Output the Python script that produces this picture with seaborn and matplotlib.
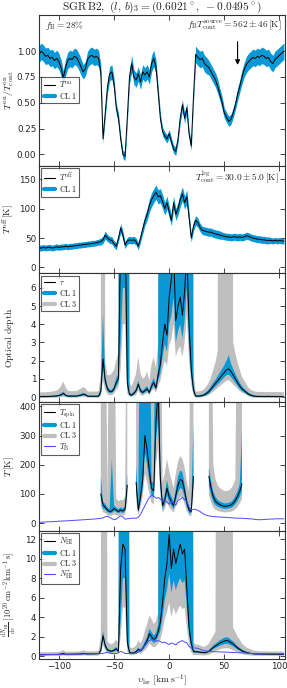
import numpy as np
import matplotlib
matplotlib.use('Agg')
import matplotlib.pyplot as plt
from matplotlib.lines import Line2D
import seaborn as sns

nan = np.nan

# ── velocity grid (km/s) ───────────────────────────────────────────────────
VEL = np.arange(-118, 105, 2)

# ── panel 1: T_on / T_cont ────────────────────────────────────────────────
TON = [
    0.97, 1.00, 0.98, 0.95, 0.96, 0.93, 0.94, 0.91, 0.93, 0.90, 0.84, 0.74, 0.84, 0.91, 0.93, 0.92,
    0.95, 0.94, 0.90, 0.85, 0.80, 0.83, 0.92, 0.95, 0.96, 0.94, 0.95, 0.93, 0.80, 0.15, 0.40, 0.65,
    0.78, 0.80, 0.68, 0.45, 0.35, 0.15, 0.00, -0.02, 0.35, 0.75, 0.88, 0.75, 0.72, 0.78, 0.70, 0.80,
    0.77, 0.80, 0.75, 0.88, 0.93, 0.85, 0.60, 0.35, 0.22, 0.18, 0.15, 0.20, 0.12, 0.05, 0.03, 0.15,
    0.35, 0.48, 0.35, 0.45, 0.20, 0.08, 0.55, 0.97, 0.94, 0.92, 0.93, 0.88, 0.86, 0.84, 0.80, 0.76,
    0.72, 0.66, 0.58, 0.50, 0.40, 0.36, 0.32, 0.34, 0.40, 0.48, 0.58, 0.66, 0.75, 0.82, 0.87, 0.90,
    0.92, 0.94, 0.93, 0.95, 0.94, 0.96, 0.95, 0.93, 0.94, 0.90, 0.88, 0.92, 0.94, 0.96, 0.98, 1.00,
]
TON_ERR = [
    0.08, 0.08, 0.08, 0.08, 0.08, 0.08, 0.08, 0.08, 0.08, 0.08, 0.08, 0.07, 0.08, 0.08, 0.08, 0.08,
    0.08, 0.08, 0.08, 0.08, 0.07, 0.07, 0.08, 0.08, 0.08, 0.08, 0.08, 0.08, 0.07, 0.04, 0.05, 0.06,
    0.07, 0.07, 0.06, 0.05, 0.05, 0.04, 0.04, 0.04, 0.05, 0.07, 0.08, 0.07, 0.07, 0.07, 0.07, 0.07,
    0.07, 0.07, 0.07, 0.08, 0.08, 0.07, 0.06, 0.05, 0.04, 0.04, 0.04, 0.04, 0.04, 0.04, 0.04, 0.04,
    0.05, 0.05, 0.05, 0.05, 0.04, 0.04, 0.05, 0.08, 0.08, 0.08, 0.08, 0.08, 0.08, 0.07, 0.07, 0.07,
    0.07, 0.07, 0.06, 0.06, 0.05, 0.05, 0.05, 0.05, 0.05, 0.05, 0.06, 0.06, 0.07, 0.07, 0.08, 0.08,
    0.08, 0.08, 0.08, 0.08, 0.08, 0.08, 0.08, 0.08, 0.08, 0.08, 0.08, 0.08, 0.08, 0.08, 0.08, 0.08,
]

# ── panel 2: T_off [K] ────────────────────────────────────────────────────
TOFF = [
    33, 33, 34, 33, 34, 34, 33, 34, 35, 34, 35, 35, 36, 35, 36, 36,
    37, 37, 38, 38, 39, 39, 40, 40, 41, 41, 42, 43, 44, 47, 55, 50,
    47, 46, 40, 36, 50, 67, 55, 38, 45, 47, 46, 47, 44, 36, 50, 65,
    80, 90, 105, 115, 122, 128, 120, 122, 112, 100, 110, 95, 80, 110, 90, 100,
    115, 125, 110, 120, 85, 50, 70, 80, 76, 68, 63, 62, 61, 60, 60, 58,
    57, 56, 55, 54, 53, 52, 52, 51, 52, 52, 51, 52, 51, 52, 54, 53,
    51, 50, 49, 48, 48, 47, 47, 46, 46, 46, 45, 46, 45, 46, 45, 45,
]
TOFF_ERR = [
    5, 5, 5, 5, 5, 5, 5, 5, 5, 5, 5, 5, 5, 5, 5, 5,
    5, 5, 5, 5, 5, 5, 5, 5, 5, 5, 5, 5, 6, 6, 7, 6,
    6, 6, 6, 6, 6, 8, 7, 6, 6, 6, 6, 6, 6, 6, 7, 8,
    9, 10, 11, 12, 12, 12, 12, 12, 12, 11, 11, 10, 9, 11, 10, 11,
    12, 12, 11, 12, 10, 7, 8, 8, 8, 7, 7, 7, 7, 7, 7, 7,
    7, 7, 7, 6, 6, 6, 6, 6, 6, 6, 6, 6, 6, 6, 6, 6,
    6, 6, 6, 6, 6, 6, 6, 6, 6, 5, 5, 5, 5, 5, 5, 5,
]

# ── panel 3: optical depth ────────────────────────────────────────────────
TAU = [
    0.02, 0.02, 0.03, 0.02, 0.03, 0.03, 0.04, 0.05, 0.06, 0.08, 0.12, 0.20, 0.10, 0.05, 0.05, 0.05,
    0.05, 0.05, 0.08, 0.10, 0.15, 0.12, 0.05, 0.04, 0.04, 0.04, 0.04, 0.05, 0.30, 2.10, 0.90, 0.45,
    0.30, 0.30, 0.45, 0.80, 1.00, 9.0, 10.0, 10.0, 0.80, 0.15, 0.10, 0.20, 0.35, 0.70, 0.35, 0.25,
    0.35, 0.45, 0.25, 0.60, 0.80, 0.50, 1.20, 1.80, 3.00, 4.00, 3.40, 5.50, 6.50, 8.00, 4.20, 5.00,
    5.50, 4.50, 5.80, 8.00, 4.00, 1.50, 0.40, 0.05, 0.05, 0.06, 0.08, 0.12, 0.20, 0.30, 0.45, 0.60,
    0.75, 0.90, 1.05, 1.20, 1.35, 1.50, 1.55, 1.40, 1.20, 1.00, 0.80, 0.60, 0.45, 0.35, 0.25, 0.15,
    0.10, 0.06, 0.04, 0.03, 0.03, 0.03, 0.02, 0.03, 0.03, 0.02, 0.03, 0.02, 0.02, 0.02, 0.02, 0.01,
]
TAU_CL1_LO = [
    0.00, 0.00, 0.00, 0.00, 0.00, 0.00, 0.01, 0.01, 0.02, 0.03, 0.06, 0.12, 0.05, 0.01, 0.01, 0.01,
    0.01, 0.01, 0.03, 0.05, 0.09, 0.07, 0.01, 0.01, 0.01, 0.01, 0.01, 0.01, 0.15, 1.60, 0.70, 0.33,
    0.22, 0.22, 0.33, 0.60, 0.80, 3.00, 6.00, 6.00, 0.50, 0.08, 0.05, 0.13, 0.25, 0.55, 0.25, 0.17,
    0.25, 0.33, 0.17, 0.45, 0.62, 0.38, 0.90, 1.30, 2.20, 2.90, 2.50, 4.00, 4.50, 5.50, 3.00, 3.60,
    4.00, 3.20, 4.20, 6.00, 2.80, 1.10, 0.25, 0.01, 0.01, 0.02, 0.03, 0.06, 0.12, 0.20, 0.32, 0.45,
    0.58, 0.70, 0.82, 0.95, 1.08, 1.20, 1.22, 1.10, 0.95, 0.78, 0.62, 0.45, 0.33, 0.25, 0.17, 0.09,
    0.05, 0.02, 0.01, 0.00, 0.00, 0.00, 0.00, 0.00, 0.00, 0.00, 0.00, 0.00, 0.00, 0.00, 0.00, 0.00,
]
TAU_CL1_HI = [
    0.06, 0.06, 0.07, 0.06, 0.07, 0.07, 0.08, 0.09, 0.10, 0.13, 0.19, 0.30, 0.16, 0.09, 0.09, 0.09,
    0.09, 0.09, 0.13, 0.16, 0.23, 0.19, 0.09, 0.08, 0.08, 0.08, 0.08, 0.09, 0.50, 4.60, 1.20, 0.60,
    0.40, 0.40, 0.58, 1.05, 1.25, 99, 99, 99, 99, 0.25, 0.18, 0.30, 0.48, 0.90, 0.48, 0.35,
    0.48, 0.60, 0.35, 0.78, 1.05, 0.68, 1.60, 99, 99, 99, 99, 99, 99, 99, 99, 99,
    99, 99, 99, 99, 99, 99, 0.70, 0.10, 0.10, 0.11, 0.14, 0.20, 0.30, 0.42, 0.60, 0.80,
    0.95, 1.15, 1.35, 1.55, 1.75, 2.00, 2.30, 1.85, 1.55, 1.28, 1.02, 0.78, 0.60, 0.47, 0.35, 0.23,
    0.17, 0.11, 0.08, 0.07, 0.07, 0.07, 0.06, 0.07, 0.07, 0.06, 0.07, 0.06, 0.06, 0.06, 0.06, 0.05,
]
TAU_CL3_LO = [
    -0.05, -0.05, -0.05, -0.05, -0.05, -0.05, -0.04, -0.04, -0.03, -0.02, 0.00, 0.02, 0.00, -0.03, -0.04, -0.04,
    -0.04, -0.04, -0.02, 0.00, 0.02, 0.01, -0.03, -0.04, -0.04, -0.04, -0.04, -0.04, 0.05, 0.90, 0.40, 0.15,
    0.10, 0.10, 0.18, 0.40, 0.55, 1.50, 4.00, 4.00, 0.20, 0.02, 0.01, 0.05, 0.12, 0.35, 0.12, 0.06,
    0.15, 0.22, 0.10, 0.32, 0.45, 0.25, 0.60, 0.90, 1.50, 2.00, 1.70, 2.80, 3.20, 4.00, 2.20, 2.60,
    2.80, 2.20, 3.00, 4.50, 2.00, 0.70, 0.10, -0.04, -0.04, -0.04, -0.02, 0.03, 0.06, 0.12, 0.20, 0.30,
    0.40, 0.50, 0.60, 0.70, 0.80, 0.90, 0.92, 0.82, 0.70, 0.58, 0.45, 0.33, 0.24, 0.17, 0.11, 0.05,
    0.00, -0.03, -0.04, -0.05, -0.05, -0.05, -0.05, -0.05, -0.05, -0.05, -0.05, -0.05, -0.05, -0.05, -0.05, -0.05,
]
TAU_CL3_HI = [
    0.25, 0.25, 0.27, 0.25, 0.28, 0.28, 0.30, 0.32, 0.35, 0.45, 0.60, 0.85, 0.55, 0.35, 0.32, 0.32,
    0.32, 0.32, 0.40, 0.45, 0.55, 0.48, 0.32, 0.30, 0.30, 0.30, 0.30, 0.32, 1.20, 99, 2.00, 1.20,
    1.20, 1.30, 1.50, 2.00, 2.50, 99, 99, 99, 99, 0.80, 0.60, 0.90, 1.30, 2.20, 1.30, 1.00,
    1.10, 1.40, 0.90, 1.80, 2.20, 1.60, 3.00, 99, 99, 99, 99, 99, 99, 99, 99, 99,
    99, 99, 99, 99, 99, 99, 1.50, 0.30, 0.30, 0.32, 0.36, 0.45, 0.60, 0.80, 1.10, 1.50,
    1.90, 2.50, 99, 99, 99, 99, 99, 99, 3.00, 2.40, 1.90, 1.50, 1.10, 0.90, 0.70, 0.50,
    0.40, 0.33, 0.30, 0.28, 0.28, 0.28, 0.27, 0.28, 0.28, 0.27, 0.28, 0.27, 0.27, 0.27, 0.27, 0.26,
]

# ── panel 4: spin temperature and brightness temperature [K] ─────────────
TSPIN = [
    nan, nan, nan, nan, nan, nan, nan, nan, nan, nan, nan, nan, nan, nan, nan, nan,
    nan, nan, nan, nan, nan, nan, nan, nan, nan, nan, nan, nan, 100, 62, 55, 45,
    40, 42, 50, 45, 40, 45, 42, 48, 130, nan, nan, nan, 140, 45, 90, 150,
    300, 250, 180, 120, 110, 350, 450, 150, 60, 80, 120, 90, 75, 60, 95, 130,
    150, 145, 110, 70, 45, 40, 160, nan, nan, nan, nan, nan, nan, 160, 120, 90,
    75, 68, 63, 60, 58, 58, 60, 62, 68, 78, 92, 110, 135, nan, nan, nan,
    nan, nan, nan, nan, nan, nan, nan, nan, nan, nan, nan, nan, nan, nan, nan, nan,
]
T_CL1_LO = [
    nan, nan, nan, nan, nan, nan, nan, nan, nan, nan, nan, nan, nan, nan, nan, nan,
    nan, nan, nan, nan, nan, nan, nan, nan, nan, nan, nan, nan, 80, 50, 46, 38,
    34, 35, 42, 38, 34, 38, 35, 40, 100, nan, nan, nan, 110, 35, 70, 120,
    240, 200, 145, 95, 88, 280, 360, 120, 48, 64, 96, 72, 60, 48, 76, 104,
    120, 116, 88, 56, 36, 32, 128, nan, nan, nan, nan, nan, nan, 128, 96, 72,
    62, 57, 53, 51, 49, 49, 51, 52, 57, 65, 76, 90, 110, nan, nan, nan,
    nan, nan, nan, nan, nan, nan, nan, nan, nan, nan, nan, nan, nan, nan, nan, nan,
]
T_CL1_HI = [
    nan, nan, nan, nan, nan, nan, nan, nan, nan, nan, nan, nan, nan, nan, nan, nan,
    nan, nan, nan, nan, nan, nan, nan, nan, nan, nan, nan, nan, 160, 75, 66, 54,
    48, 220, 60, 54, 48, 54, 50, 58, 170, nan, nan, nan, 200, 70, 999, 999,
    999, 999, 999, 145, 135, 999, 999, 190, 72, 98, 148, 110, 92, 74, 116, 160,
    180, 175, 134, 86, 56, 50, 340, nan, nan, nan, nan, nan, nan, 190, 145, 108,
    90, 80, 74, 71, 68, 68, 70, 73, 80, 93, 110, 135, 310, nan, nan, nan,
    nan, nan, nan, nan, nan, nan, nan, nan, nan, nan, nan, nan, nan, nan, nan, nan,
]
T_CL3_LO = [
    nan, nan, nan, nan, nan, nan, nan, nan, nan, nan, nan, nan, nan, nan, nan, nan,
    nan, nan, nan, nan, nan, nan, nan, nan, nan, nan, nan, nan, 60, 38, 34, 28,
    25, 26, 30, 28, 25, 28, 26, 30, 70, nan, nan, nan, 80, 27, 55, 90,
    170, 140, 100, 70, 65, 200, 260, 90, 36, 48, 72, 55, 45, 36, 57, 78,
    90, 87, 66, 42, 27, 24, 96, nan, nan, nan, nan, nan, nan, 96, 72, 54,
    46, 42, 40, 38, 37, 37, 38, 39, 42, 48, 56, 68, 82, nan, nan, nan,
    nan, nan, nan, nan, nan, nan, nan, nan, nan, nan, nan, nan, nan, nan, nan, nan,
]
T_CL3_HI = [
    nan, nan, nan, nan, nan, nan, nan, nan, nan, nan, nan, nan, nan, nan, nan, nan,
    nan, nan, nan, nan, nan, nan, nan, nan, nan, nan, nan, nan, 999, 999, 999, 80,
    999, 999, 999, 85, 75, 80, 78, 90, 999, nan, nan, nan, 999, 999, 999, 999,
    999, 999, 999, 999, 999, 999, 999, 999, 140, 170, 220, 180, 150, 120, 170, 210,
    230, 220, 190, 140, 110, 999, 999, nan, nan, nan, nan, nan, nan, 999, 999, 200,
    150, 130, 120, 115, 110, 110, 112, 118, 130, 150, 999, 999, 999, nan, nan, nan,
    nan, nan, nan, nan, nan, nan, nan, nan, nan, nan, nan, nan, nan, nan, nan, nan,
]
TB = [
    3, 3, 4, 4, 5, 5, 5, 6, 6, 7, 7, 8, 8, 8, 9, 9,
    10, 10, 11, 11, 12, 12, 13, 13, 14, 14, 15, 16, 17, 18, 22, 24,
    20, 16, 12, 14, 20, 25, 22, 14, 15, 16, 17, 17, 17, 20, 30, 45,
    60, 75, 88, 95, 93, 85, 88, 82, 75, 80, 72, 65, 75, 70, 62, 78,
    82, 88, 80, 75, 55, 45, 48, 47, 44, 40, 34, 30, 27, 25, 24, 23,
    22, 22, 21, 21, 20, 20, 19, 19, 18, 18, 17, 17, 17, 16, 16, 15,
    15, 14, 13, 12, 12, 12, 13, 13, 14, 14, 14, 15, 15, 15, 15, 15,
]

# ── panel 5: column density per channel [1e20 cm^-2 km^-1 s] ─────────────
NHI = [
    0.15, 0.15, 0.16, 0.16, 0.17, 0.17, 0.17, 0.18, 0.18, 0.19, 0.22, 0.28, 0.20, 0.20, 0.20, 0.20,
    0.21, 0.21, 0.22, 0.24, 0.28, 0.26, 0.23, 0.23, 0.24, 0.24, 0.25, 0.26, 0.60, 2.10, 1.10, 0.65,
    0.55, 0.50, 0.60, 0.75, 0.50, 9.00, 11.5, 11.0, 1.50, 0.40, 0.30, 0.35, 0.45, 0.70, 0.55, 0.80,
    1.20, 1.60, 2.30, 2.00, 1.70, 1.90, 2.50, 3.50, 5.50, 8.00, 9.50, 12.5, 9.00, 11.0, 9.50, 10.5,
    11.5, 10.5, 11.0, 7.00, 3.00, 1.30, 0.50, 0.45, 0.45, 0.40, 0.38, 0.35, 0.40, 0.50, 0.70, 0.90,
    1.05, 1.20, 1.35, 1.45, 1.55, 1.60, 1.55, 1.40, 1.25, 1.05, 0.85, 0.70, 0.55, 0.45, 0.38, 0.32,
    0.28, 0.25, 0.23, 0.22, 0.22, 0.21, 0.21, 0.21, 0.20, 0.20, 0.20, 0.20, 0.20, 0.20, 0.20, 0.20,
]
N_CL1_LO = [
    0.12, 0.12, 0.13, 0.13, 0.14, 0.14, 0.14, 0.15, 0.15, 0.16, 0.18, 0.23, 0.17, 0.17, 0.17, 0.17,
    0.18, 0.18, 0.19, 0.20, 0.23, 0.22, 0.20, 0.20, 0.21, 0.21, 0.22, 0.22, 0.45, 1.70, 0.85, 0.52,
    0.44, 0.40, 0.48, 0.60, 0.40, 3.50, 8.00, 8.00, 1.00, 0.32, 0.24, 0.28, 0.36, 0.55, 0.44, 0.64,
    0.95, 1.25, 1.85, 1.60, 1.35, 1.50, 2.00, 2.60, 4.00, 5.80, 6.80, 8.50, 6.50, 7.80, 6.80, 7.50,
    8.00, 7.50, 7.80, 5.00, 2.20, 0.90, 0.35, 0.36, 0.36, 0.32, 0.30, 0.28, 0.32, 0.40, 0.56, 0.72,
    0.85, 0.96, 1.08, 1.16, 1.24, 1.28, 1.24, 1.12, 1.00, 0.84, 0.68, 0.56, 0.44, 0.36, 0.30, 0.26,
    0.23, 0.21, 0.19, 0.18, 0.18, 0.17, 0.17, 0.17, 0.17, 0.17, 0.17, 0.17, 0.17, 0.17, 0.17, 0.17,
]
N_CL1_HI = [
    0.18, 0.18, 0.19, 0.19, 0.20, 0.20, 0.20, 0.21, 0.21, 0.22, 0.26, 0.33, 0.23, 0.23, 0.23, 0.23,
    0.24, 0.24, 0.25, 0.28, 0.33, 0.30, 0.26, 0.26, 0.27, 0.27, 0.28, 0.30, 0.80, 2.60, 1.40, 0.80,
    0.68, 0.62, 0.75, 0.95, 0.65, 99, 99, 99, 99, 0.50, 0.38, 0.44, 0.56, 0.88, 0.70, 1.00,
    1.50, 2.00, 2.80, 2.50, 2.10, 2.40, 3.20, 99, 99, 99, 99, 99, 99, 99, 99, 99,
    99, 99, 99, 99, 99, 99, 0.65, 0.55, 0.55, 0.50, 0.47, 0.44, 0.50, 0.62, 0.86, 1.10,
    1.28, 1.46, 1.64, 1.76, 1.88, 1.95, 1.88, 1.70, 1.52, 1.28, 1.04, 0.86, 0.68, 0.56, 0.46, 0.40,
    0.34, 0.30, 0.28, 0.27, 0.27, 0.26, 0.26, 0.26, 0.25, 0.25, 0.25, 0.25, 0.25, 0.25, 0.25, 0.25,
]
N_CL3_LO = [
    0.02, 0.02, 0.02, 0.02, 0.03, 0.03, 0.03, 0.03, 0.03, 0.04, 0.05, 0.08, 0.04, 0.04, 0.04, 0.04,
    0.05, 0.05, 0.05, 0.06, 0.08, 0.07, 0.05, 0.05, 0.05, 0.05, 0.05, 0.05, 0.20, 1.20, 0.55, 0.30,
    0.25, 0.22, 0.28, 0.38, 0.22, 2.00, 5.00, 5.00, 0.50, 0.15, 0.10, 0.14, 0.20, 0.35, 0.26, 0.40,
    0.60, 0.85, 1.30, 1.10, 0.90, 1.00, 1.30, 1.70, 2.60, 3.80, 4.50, 5.50, 4.00, 5.00, 4.30, 4.80,
    5.20, 4.80, 5.00, 3.00, 1.20, 0.40, 0.12, 0.12, 0.12, 0.10, 0.09, 0.08, 0.10, 0.15, 0.25, 0.38,
    0.50, 0.60, 0.68, 0.75, 0.80, 0.82, 0.80, 0.70, 0.60, 0.48, 0.38, 0.30, 0.22, 0.16, 0.12, 0.09,
    0.07, 0.06, 0.05, 0.05, 0.05, 0.04, 0.04, 0.04, 0.04, 0.04, 0.04, 0.04, 0.04, 0.04, 0.04, 0.04,
]
N_CL3_HI = [
    0.40, 0.40, 0.41, 0.41, 0.42, 0.42, 0.42, 0.43, 0.43, 0.44, 0.50, 0.62, 0.46, 0.46, 0.46, 0.46,
    0.47, 0.47, 0.48, 0.52, 0.60, 0.55, 0.50, 0.50, 0.50, 0.50, 0.51, 0.55, 2.00, 99, 99, 1.50,
    1.30, 1.20, 1.40, 1.70, 1.30, 99, 99, 99, 99, 1.00, 0.80, 0.90, 1.10, 1.60, 1.30, 1.80,
    2.60, 3.30, 4.20, 3.80, 3.30, 3.60, 4.50, 99, 99, 99, 99, 99, 99, 99, 99, 99,
    99, 99, 99, 99, 99, 99, 1.40, 1.20, 1.20, 1.10, 1.00, 0.95, 1.10, 1.30, 1.70, 2.10,
    2.50, 99, 99, 99, 99, 99, 99, 99, 2.90, 2.50, 2.00, 1.70, 1.30, 1.10, 0.90, 0.80,
    0.70, 0.60, 0.55, 0.52, 0.50, 0.50, 0.49, 0.49, 0.48, 0.48, 0.48, 0.48, 0.48, 0.48, 0.48, 0.48,
]
NSTAR = [
    0.15, 0.15, 0.15, 0.16, 0.16, 0.16, 0.17, 0.17, 0.17, 0.18, 0.18, 0.19, 0.19, 0.19, 0.20, 0.20,
    0.20, 0.21, 0.21, 0.22, 0.22, 0.23, 0.23, 0.24, 0.24, 0.25, 0.25, 0.26, 0.27, 0.28, 0.35, 0.38,
    0.34, 0.28, 0.25, 0.27, 0.35, 0.48, 0.42, 0.28, 0.27, 0.28, 0.29, 0.30, 0.32, 0.40, 0.60, 0.85,
    1.10, 1.40, 1.60, 1.70, 1.68, 1.55, 1.60, 1.50, 1.38, 1.45, 1.30, 1.20, 1.35, 1.28, 1.15, 1.40,
    1.50, 1.60, 1.45, 1.38, 1.00, 0.82, 0.85, 0.83, 0.80, 0.72, 0.62, 0.56, 0.52, 0.50, 0.48, 0.47,
    0.46, 0.45, 0.44, 0.43, 0.42, 0.41, 0.40, 0.39, 0.38, 0.37, 0.36, 0.35, 0.34, 0.33, 0.32, 0.30,
    0.28, 0.26, 0.24, 0.23, 0.23, 0.23, 0.24, 0.24, 0.24, 0.25, 0.25, 0.25, 0.25, 0.25, 0.25, 0.25,
]

# ── style ─────────────────────────────────────────────────────────────────
sns.set_style('ticks')
plt.rcParams.update({
    'font.family': ['DejaVu Sans'],
    'mathtext.fontset': 'cm',
    'xtick.direction': 'in', 'ytick.direction': 'in',
    'xtick.top': True, 'ytick.right': True,
    'xtick.labelsize': 6.3, 'ytick.labelsize': 6.3,
    'axes.linewidth': 0.8, 'axes.edgecolor': '#333333',
})

C_CL1 = '#0898d6'
C_CL3 = '#bfbfbf'
C_THIN = '#4b4bff'

fig = plt.figure(figsize=(2.87, 6.88), dpi=100)
gs = fig.add_gridspec(5, 1, height_ratios=[151, 108, 129, 129, 129],
                      left=0.136, right=0.993, top=0.978, bottom=0.042, hspace=0)
axes = [fig.add_subplot(gs[i]) for i in range(5)]
for ax in axes[1:]:
    ax.sharex(axes[0])

vel = np.asarray(VEL, float)


def arr(a):
    return np.asarray(a, float)


def legend(ax, items, loc):
    handles = []
    labels = []
    for lab, col, lw in items:
        handles.append(Line2D([0], [0], color=col, lw=lw))
        labels.append(lab)
    lg = ax.legend(handles, labels, loc=loc, fontsize=5.8, frameon=True, fancybox=False,
                   edgecolor='#333333', handlelength=1.4, handletextpad=0.5,
                   borderpad=0.3, labelspacing=0.1, borderaxespad=0.3)
    lg.get_frame().set_linewidth(0.8)
    lg.set_zorder(10)


# 1. T_on / T_cont
ax = axes[0]
ton = arr(TON); terr = arr(TON_ERR)
ax.fill_between(vel, ton - terr, ton + terr, color=C_CL1, lw=0)
sns.lineplot(x=vel, y=ton, ax=ax, color='k', lw=0.7, estimator=None)
ax.set_ylim(-0.11, 1.35)
ax.set_yticks([0, 0.25, 0.5, 0.75, 1.0])
ax.set_yticklabels(['0.00', '0.25', '0.50', '0.75', '1.00'])
ax.set_ylabel(r'$T^{\rm on}/T^{\rm on}_{\rm cont}$', fontsize=7)
ax.text(0.025, 0.93, r'$f_{\rm B} = 28\%$', transform=ax.transAxes, fontsize=6.8, va='center')
ax.text(0.985, 0.93, r'$f_{\rm B}T_{\rm cont}^{\rm source} = 562 \pm 46\,[\mathrm{K}]$',
        transform=ax.transAxes, fontsize=6.8, va='center', ha='right')
ax.annotate('', xy=(62, 0.84), xytext=(62, 1.12),
            arrowprops=dict(arrowstyle='-|>', color='k', lw=0.8, mutation_scale=7))
legend(ax, [(r'$T^{\rm on}$', 'k', 0.8), (r'$\mathrm{CL\,1}$', C_CL1, 3)], 'center left')
ax.set_title(r'$\mathrm{SGR\,B2},\ (l,\,b)_3 = (0.6021^\circ,\ -0.0495^\circ)$',
             fontsize=8.2, pad=1.5)

# 2. T_off
ax = axes[1]
toff = arr(TOFF); oerr = arr(TOFF_ERR)
ax.fill_between(vel, toff - oerr, toff + oerr, color=C_CL1, lw=0)
sns.lineplot(x=vel, y=toff, ax=ax, color='k', lw=0.7, estimator=None)
ax.set_ylim(-10, 173)
ax.set_yticks([0, 50, 100, 150])
ax.set_ylabel(r'$T^{\rm off}\,[\mathrm{K}]$', fontsize=7)
ax.text(0.975, 0.89, r'$T_{\rm cont}^{\rm bg} = 30.0 \pm 5.0\,[\mathrm{K}]$',
        transform=ax.transAxes, fontsize=6.8, va='center', ha='right')
legend(ax, [(r'$T^{\rm off}$', 'k', 0.8), (r'$\mathrm{CL\,1}$', C_CL1, 3)], 'upper left')

# 3. optical depth
ax = axes[2]
ax.fill_between(vel, arr(TAU_CL3_LO), arr(TAU_CL3_HI), color=C_CL3, lw=0)
ax.fill_between(vel, arr(TAU_CL1_LO), arr(TAU_CL1_HI), color=C_CL1, lw=0)
sns.lineplot(x=vel, y=arr(TAU), ax=ax, color='k', lw=0.7, estimator=None)
ax.set_ylim(-0.27, 6.8)
ax.set_yticks(range(0, 7))
ax.set_ylabel(r'$\mathrm{Optical\ depth}$', fontsize=7)
legend(ax, [(r'$\tau$', 'k', 0.8), (r'$\mathrm{CL\,1}$', C_CL1, 3),
            (r'$\mathrm{CL\,3}$', C_CL3, 3)], 'upper left')

# 4. temperatures
ax = axes[3]
ax.fill_between(vel, arr(T_CL3_LO), arr(T_CL3_HI), color=C_CL3, lw=0)
ax.fill_between(vel, arr(T_CL1_LO), arr(T_CL1_HI), color=C_CL1, lw=0)
ax.plot(vel, arr(TSPIN), color='k', lw=0.7)
sns.lineplot(x=vel, y=arr(TB), ax=ax, color=C_THIN, lw=0.7, estimator=None)
ax.set_ylim(-25, 415)
ax.set_yticks([0, 100, 200, 300, 400])
ax.set_ylabel(r'$T\,[\mathrm{K}]$', fontsize=7)
legend(ax, [(r'$T_{\rm spin}$', 'k', 0.8), (r'$\mathrm{CL\,1}$', C_CL1, 3),
            (r'$\mathrm{CL\,3}$', C_CL3, 3), (r'$T_{\rm B}$', C_THIN, 0.8)], 'upper left')

# 5. column density
ax = axes[4]
ax.fill_between(vel, arr(N_CL3_LO), arr(N_CL3_HI), color=C_CL3, lw=0)
ax.fill_between(vel, arr(N_CL1_LO), arr(N_CL1_HI), color=C_CL1, lw=0)
sns.lineplot(x=vel, y=arr(NHI), ax=ax, color='k', lw=0.7, estimator=None)
sns.lineplot(x=vel, y=arr(NSTAR), ax=ax, color=C_THIN, lw=0.7, estimator=None)
ax.set_ylim(-0.3, 12.9)
ax.set_yticks(range(0, 13, 2))
ax.set_ylabel(r'$\frac{\mathrm{d}N_{\rm HI}}{\mathrm{d}\upsilon}\ [10^{20}\,\mathrm{cm^{-2}\,km^{-1}\,s}]$',
              fontsize=6.2)
legend(ax, [(r'$N_{\rm HI}$', 'k', 0.8), (r'$\mathrm{CL\,1}$', C_CL1, 3),
            (r'$\mathrm{CL\,3}$', C_CL3, 3), (r'$N_{\rm HI}^{*}$', C_THIN, 0.8)], 'upper left')
ax.set_xlabel(r'$\upsilon_{\rm lsr}\ [\mathrm{km\,s^{-1}}]$', fontsize=7, labelpad=1)

for ax in axes:
    ax.set_xlim(-118, 105)
    ax.set_xticks([-100, -50, 0, 50, 100])
    ax.tick_params(length=3.5, width=0.6, pad=2)
    ax.yaxis.set_label_coords(-0.095, 0.5)
axes[4].yaxis.set_label_coords(-0.085, 0.5)
for ax in axes[:-1]:
    ax.tick_params(labelbottom=False)

fig.savefig('out.png', dpi=100)
